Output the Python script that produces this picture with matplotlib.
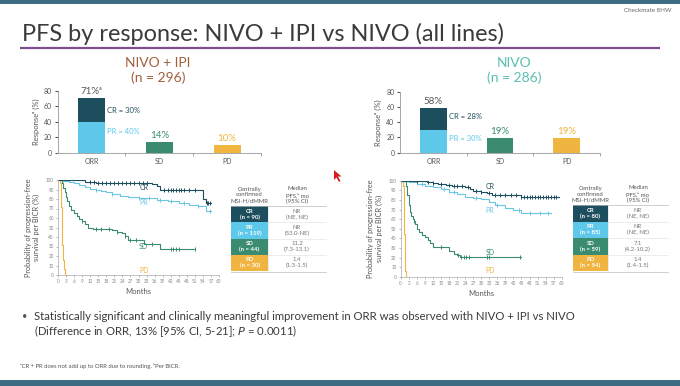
import numpy as np
import matplotlib
matplotlib.use('Agg')
import matplotlib.pyplot as plt
from matplotlib import font_manager
from matplotlib.patches import Rectangle, Polygon

W, H = 680, 386

# ---------------- data ----------------
bar_categories = ['ORR', 'SD', 'PD']
combo_bar_pr = 40
combo_bar_cr = 30
combo_bar_orr = 71
combo_bar_sd = 14
combo_bar_pd = 10
nivo_bar_pr = 30
nivo_bar_cr = 28
nivo_bar_orr = 58
nivo_bar_sd = 19
nivo_bar_pd = 19

# Kaplan-Meier (months, % progression-free), NIVO + IPI
combo_cr_t = [0, 10, 14, 35, 37, 38, 54, 55, 57]
combo_cr_s = [100, 97.5, 97, 96, 94, 90, 80, 76, 76]
combo_cr_cens = [12, 13.5, 15, 16.5, 18, 19.5, 21, 22.5, 24, 25.5, 27, 28.5, 30, 31.5, 33,
                 39.5, 41, 42, 43, 44, 45, 46, 47, 49, 51, 55.5, 56, 56.5]
combo_pr_t = [0, 2, 4, 6, 8, 10, 12, 14, 16, 18, 20, 23, 26, 30, 37, 41, 45, 49, 52, 55, 57]
combo_pr_s = [100, 99, 98, 97, 95, 93, 91, 90, 88, 87, 85, 83, 82, 81, 79, 78, 76, 74, 73, 67, 67]
combo_pr_cens = [14, 20, 30, 34, 38, 42, 47, 52, 56.5]
combo_sd_t = [0, 1.5, 2, 2.5, 3, 3.5, 4, 5, 6, 7, 8, 9, 10, 11, 13, 20, 22, 24, 25, 26, 32, 38, 51]
combo_sd_s = [100, 97, 92, 87, 82, 78, 73, 68, 65, 62, 59, 57, 54, 50, 48, 47, 45, 44, 41, 37, 33, 27, 27]
combo_sd_cens = [9, 14, 16, 19, 22, 25, 27, 29, 35, 42, 43, 44, 45, 51]
combo_pd_t = [0, 0.6, 1.0, 1.2, 1.4, 1.6, 1.8, 2.1, 2.6]
combo_pd_s = [100, 97, 88, 72, 52, 32, 16, 6, 0]

# Kaplan-Meier, NIVO
nivo_cr_t = [0, 9.7, 12, 14, 17, 19, 22, 24, 26, 27, 30, 32, 34, 45, 59]
nivo_cr_s = [100, 99, 98, 97, 96, 95, 94, 93, 91, 89, 88, 87, 85, 83, 83]
nivo_cr_cens = [6, 10, 12, 15, 18, 20, 21, 23, 25, 28, 30, 33, 35, 37, 39, 41, 43, 45, 46, 47,
                48, 49, 50, 51, 52, 53, 54, 55, 56, 57, 58]
nivo_pr_t = [0, 3, 6, 9, 12, 15, 18, 21, 24, 27, 30, 33, 35, 39, 42, 45, 56]
nivo_pr_s = [100, 99, 97, 95, 93, 91, 88, 86, 83, 82, 81, 78, 75, 72, 70, 66, 66]
nivo_pr_cens = [8, 16, 20, 28, 36, 44, 48, 52, 55]
nivo_sd_t = [0, 2, 2.5, 3, 3.5, 4, 4.5, 5, 5.5, 6, 7, 8, 9, 10, 11, 12, 18, 20, 21, 22, 45]
nivo_sd_s = [100, 95, 85, 75, 68, 63, 60, 58, 55, 50, 47, 44, 42, 38, 35, 31, 27, 24, 23, 21, 21]
nivo_sd_cens = [5, 15, 21.5, 22.5, 23.5, 24.5, 25.5, 32, 33, 44.5]
nivo_pd_t = [0, 0.8, 1.1, 1.3, 1.5, 1.7, 2.0]
nivo_pd_s = [100, 95, 75, 45, 20, 6, 0]

# tables
table_header_left = 'Centrally\nconfirmed\nMSI-H/dMMR'
table_header_right = 'Median\nPFS,\u1d47 mo\n(95% CI)'
combo_tab_rows = ['CR\n(n = 90)', 'PR\n(n = 119)', 'SD\n(n = 44)', 'PD\n(n = 30)']
combo_tab_vals = ['NR\n(NE, NE)', 'NR\n(53.0-NE)', '11.2\n(7.3-13.1)', '1.4\n(1.3-1.5)']
nivo_tab_rows = ['CR\n(n = 80)', 'PR\n(n = 85)', 'SD\n(n = 59)', 'PD\n(n = 54)']
nivo_tab_vals = ['NR\n(NE, NE)', 'NR\n(NE, NE)', '7.1\n(4.2-10.2)', '1.4\n(1.4-1.5)']

# ---------------- style ----------------
names = {f.name for f in font_manager.fontManager.ttflist}
FONT = 'Liberation Sans Narrow' if 'Liberation Sans Narrow' in names else 'Lato'
plt.rcParams['font.family'] = [FONT, 'DejaVu Sans']

CR_C = '#1d4e5e'
PR_C = '#5ec8ea'
SD_C = '#3a8b70'
PD_C = '#f0b440'
KM_PR_C = '#6cc6e2'
TXT = '#3b3b3b'

fig = plt.figure(figsize=(W / 100, H / 100), dpi=100)
fig.patch.set_facecolor('white')


def px_axes(x0, y0, x1, y1):
    return fig.add_axes([x0 / W, 1 - y1 / H, (x1 - x0) / W, (y1 - y0) / H])


# overlay in pixel coordinates
ov = fig.add_axes([0, 0, 1, 1])
ov.set_xlim(0, W)
ov.set_ylim(H, 0)
ov.axis('off')
ov.add_patch(Rectangle((0, 0), W, 4, color='#3d6b82', lw=0))
ov.add_patch(Rectangle((0, 380), W, 6, color='#3d6b82', lw=0))
ov.plot([20, 660], [48, 48], color='#7d4f8f', lw=1.6, solid_capstyle='butt')
ov.text(22, 34, 'PFS by response: NIVO + IPI vs NIVO (all lines)', fontsize=16.9,
        color=TXT, va='center', ha='left')
ov.text(672, 11, 'Checkmate 8HW', fontsize=4.5, color='#666666', ha='right', va='center')

# headers
ov.text(158, 63, 'NIVO + IPI', fontsize=10, color='#a0603c', ha='center', va='center')
ov.text(158, 78, '(n = 296)', fontsize=10, color='#a0603c', ha='center', va='center')
ov.text(514, 63, 'NIVO', fontsize=10, color='#5bbfae', ha='center', va='center')
ov.text(514, 78, '(n = 286)', fontsize=10, color='#5bbfae', ha='center', va='center')

# bullet text
ov.text(22, 316, '\u2022', fontsize=6.5, color='#555555', va='center')
ov.text(34, 316, 'Statistically significant and clinically meaningful improvement in ORR was '
        'observed with NIVO + IPI vs NIVO', fontsize=8.2, color=TXT, va='center')
ov.text(34, 331, '(Difference in ORR, 13% [95% CI, 5-21]; $\\it{P}$ = 0.0011)', fontsize=8.2,
        color=TXT, va='center')
ov.text(20, 366, '\u1d43CR + PR does not add up to ORR due to rounding. \u1d47Per BICR.',
        fontsize=4.3, color='#555555', va='center')

# cursor decoration
ov.add_patch(Polygon([[334, 170], [334, 180], [336.5, 177.5], [339, 182], [340.5, 181],
                      [338, 176.5], [341.5, 176.5]], closed=True, color='#d42020', lw=0))


# ---------------- bar charts ----------------
def bar_chart(box, pr, cr, orr, sd, pd_):
    ax = px_axes(*box)
    x = np.arange(len(bar_categories))
    ax.bar(x[0], pr, width=0.4, color=PR_C)
    ax.bar(x[0], cr, width=0.4, bottom=pr, color=CR_C)
    ax.bar(x[1], sd, width=0.4, color=SD_C)
    ax.bar(x[2], pd_, width=0.4, color=PD_C)
    ax.set_xlim(-0.5, 2.5)
    ax.set_ylim(0, 80)
    ax.set_yticks([0, 20, 40, 60, 80])
    ax.set_xticks(x, bar_categories)
    ax.set_xticks([0.5, 1.5, 2.5], minor=True)
    ax.tick_params(axis='x', which='major', length=0, labelsize=5, colors='#555555', pad=4)
    ax.tick_params(axis='x', which='minor', length=2, color='#999999')
    ax.tick_params(axis='y', length=2, labelsize=5, colors='#555555', pad=2)
    for s in ['top', 'right']:
        ax.spines[s].set_visible(False)
    for s in ['left', 'bottom']:
        ax.spines[s].set_color('#999999')
        ax.spines[s].set_linewidth(0.6)
    ax.set_ylabel('Response\u1d43 (%)', fontsize=5.5, color='#555555', labelpad=3)
    ax.text(x[0], pr + cr + 3, f'{orr}%' + ('\u1d43' if pr + cr != orr else ''),
            ha='center', va='bottom', fontsize=7, color='#555555')
    ax.text(x[1], sd + 3, f'{sd}%', ha='center', va='bottom', fontsize=7, color=SD_C)
    ax.text(x[2], pd_ + 3, f'{pd_}%', ha='center', va='bottom', fontsize=7, color=PD_C)
    return ax


axb1 = bar_chart((57.5, 90.7, 261, 152.7), combo_bar_pr, combo_bar_cr, combo_bar_orr,
                 combo_bar_sd, combo_bar_pd)
axb1.text(0.23, 55, f'CR = {combo_bar_cr}%', fontsize=5.5, color=CR_C, va='center')
axb1.text(0.23, 28, f'PR = {combo_bar_pr}%', fontsize=5.5, color=PR_C, va='center')

axb2 = bar_chart((400, 91.7, 600, 152.7), nivo_bar_pr, nivo_bar_cr, nivo_bar_orr,
                 nivo_bar_sd, nivo_bar_pd)
axb2.text(0.23, 47, f'CR = {nivo_bar_cr}%', fontsize=5.5, color=CR_C, va='center')
axb2.text(0.23, 18, f'PR = {nivo_bar_pr}%', fontsize=5.5, color=PR_C, va='center')


# ---------------- KM plots ----------------
def step_at(t, s, x):
    t = np.asarray(t, float)
    s = np.asarray(s, float)
    idx = np.searchsorted(t, np.asarray(x, float), side='right') - 1
    return s[np.clip(idx, 0, len(s) - 1)]


def km_plot(box, curves, label_pos):
    ax = px_axes(*box)
    for t, s, cens, col in curves:
        ax.step(t, s, where='post', color=col, lw=0.8)
        if cens:
            ax.plot(cens, step_at(t, s, cens), ls='none', marker='|', ms=2.6, mew=0.7, color=col)
    ax.set_xlim(0, 60)
    ax.set_ylim(0, 100)
    ax.set_xticks(range(0, 61, 3))
    ax.set_yticks(range(0, 101, 10))
    ax.tick_params(length=1.5, width=0.4, labelsize=3.3, colors='#888888', pad=1.5)
    for s in ['top', 'right']:
        ax.spines[s].set_visible(False)
    for s in ['left', 'bottom']:
        ax.spines[s].set_color('#aaaaaa')
        ax.spines[s].set_linewidth(0.5)
    ax.set_xlabel('Months', fontsize=5.5, color='#555555', labelpad=3)
    ax.set_ylabel('Probability of progression-free\nsurvival per BICR (%)', fontsize=5.3,
                  color='#555555', labelpad=4, linespacing=1.2)
    for (lx, ly, txt, col) in label_pos:
        ax.text(lx, ly, txt, fontsize=5, color=col, ha='left', va='center')
    return ax


km_plot((58, 180, 219, 275),
        [(combo_pr_t, combo_pr_s, combo_pr_cens, KM_PR_C),
         (combo_sd_t, combo_sd_s, combo_sd_cens, SD_C),
         (combo_pd_t, combo_pd_s, [], PD_C),
         (combo_cr_t, combo_cr_s, combo_cr_cens, CR_C)],
        [(30.5, 92.5, 'CR', CR_C), (30.5, 76, 'PR', KM_PR_C),
         (30, 30.5, 'SD', SD_C), (30.5, 5, 'PD', PD_C)])

km_plot((400.7, 180.7, 561.7, 277),
        [(nivo_pr_t, nivo_pr_s, nivo_pr_cens, KM_PR_C),
         (nivo_sd_t, nivo_sd_s, nivo_sd_cens, SD_C),
         (nivo_pd_t, nivo_pd_s, [], PD_C),
         (nivo_cr_t, nivo_cr_s, nivo_cr_cens, CR_C)],
        [(31.5, 93.5, 'CR', CR_C), (31.5, 69.5, 'PR', KM_PR_C),
         (31.5, 25, 'SD', SD_C), (31.5, 7, 'PD', PD_C)])


# ---------------- tables ----------------
def draw_table(x0, xm, x1, ytop, ybot, rows, vals):
    row_cols = [CR_C, PR_C, SD_C, PD_C]
    n = len(rows)
    hgt = (ybot - ytop) / n
    ov.text((x0 + xm) / 2, ytop - 11, table_header_left, fontsize=4.3, color='#555555',
            ha='center', va='center', linespacing=1.15)
    ov.text((xm + x1) / 2, ytop - 11, table_header_right, fontsize=4.3, color='#555555',
            ha='center', va='center', linespacing=1.15)
    for i in range(n):
        y = ytop + i * hgt
        ov.add_patch(Rectangle((x0, y), xm - x0, hgt, color=row_cols[i], lw=0))
        ov.text((x0 + xm) / 2, y + hgt / 2, rows[i], fontsize=4.3, color='white',
                ha='center', va='center', fontweight='bold', linespacing=1.15)
        ov.text((xm + x1) / 2, y + hgt / 2, vals[i], fontsize=4.3, color='#777777',
                ha='center', va='center', linespacing=1.15)
        if i > 0:
            ov.plot([xm, x1], [y, y], color='#dddddd', lw=0.4)
    ov.plot([x0, x1], [ytop, ytop], color='#bbbbbb', lw=0.5)
    ov.plot([x0, x1], [ybot + 0.8, ybot + 0.8], color='#bbbbbb', lw=0.5)
    ov.plot([xm, xm], [ytop, ybot], color='#dddddd', lw=0.4)


draw_table(231, 268, 326, 206, 271, combo_tab_rows, combo_tab_vals)
draw_table(573, 608, 668, 205, 271, nivo_tab_rows, nivo_tab_vals)

fig.savefig('out.png', dpi=100, facecolor='white')
